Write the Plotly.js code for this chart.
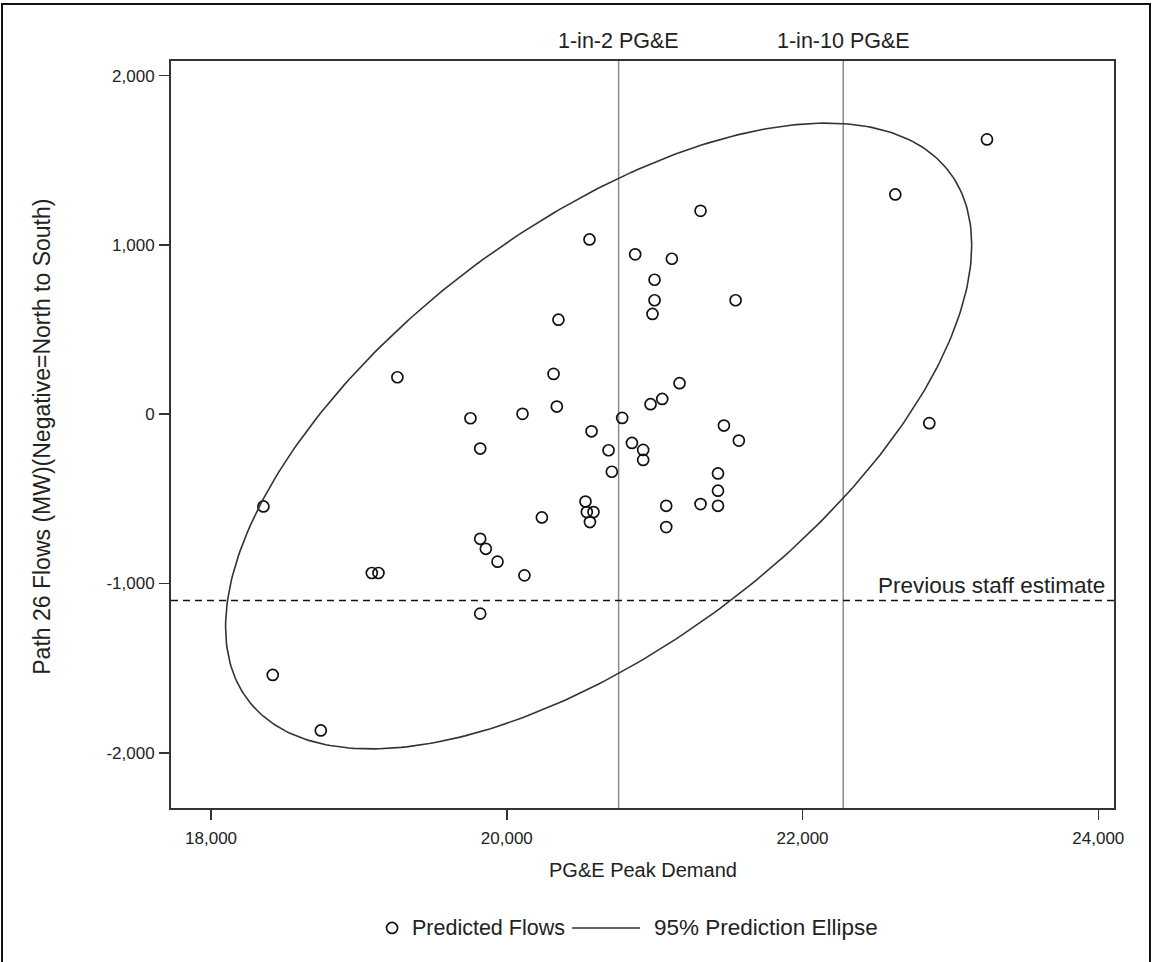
<!DOCTYPE html>
<html>
<head>
<meta charset="utf-8">
<script src="https://cdn.plot.ly/plotly-3.0.1.min.js"></script>
<style>
  html, body { margin: 0; padding: 0; background: #fff; }
  #wrap { position: relative; width: 1152px; height: 962px; overflow: hidden; }
  #chart { width: 1152px; height: 962px; }
  #frame { position: absolute; left: 1px; top: 3px; width: 1146px; height: 980px;
           border-top: 2px solid #111; border-left: 2px solid #111; border-right: 2px solid #111;
           pointer-events: none; }
</style>
</head>
<body>
<div id="wrap"><div id="chart"></div><div id="frame"></div></div>
<script>
// Predicted flows: PG&E peak demand (MW) vs Path 26 flows (MW)
const demand = [18354, 18417, 18742, 19087, 19132, 19260, 19754, 19820, 19820, 19858,
                19937, 19820, 20119, 20106, 20237, 20316, 20338, 20349, 20559, 20532,
                20541, 20586, 20562, 20573, 20688, 20710, 20780, 20846, 20868, 20922,
                20922, 20972, 20985, 20999, 20999, 21051, 21078, 21078, 21116, 21168,
                21310, 21310, 21428, 21428, 21428, 21468, 21547, 21569, 22627, 22857,
                23247];
const flows  = [-545, -1540, -1868, -938, -938, 218, -24, -203, -736, -795,
                -871, -1178, -952, 2, -610, 238, 45, 558, 1032, -516,
                -578, -578, -637, -101, -213, -340, -22, -170, 944, -211,
                -270, 59, 592, 673, 794, 90, -541, -667, 918, 183,
                1201, -531, -350, -452, -541, -67, 673, -156, 1298, -53,
                1623];

// 95% prediction ellipse (centre, half-extents, correlation)
const ellipseCenter = [20621, -129];
const ellipseHalfExtent = [2523, 1848];
const ellipseCorr = 0.61;

// Reference lines
const refDemandLabels = ["1-in-2 PG&E", "1-in-10 PG&E"];
const refDemandValues = [20756, 22275];
const staffEstimateLabel = "Previous staff estimate";
const staffEstimateValue = -1100;

// Axis ticks and titles
const xTickVals = [18000, 20000, 22000, 24000];
const xTickText = ["18,000", "20,000", "22,000", "24,000"];
const yTickVals = [-2000, -1000, 0, 1000, 2000];
const yTickText = ["-2,000", "-1,000", "0", "1,000", "2,000"];
const xTitle = "PG&E Peak Demand";
const yTitle = "Path 26 Flows (MW)(Negative=North to South)";
const seriesNames = ["Predicted Flows", "95% Prediction Ellipse"];

// build ellipse outline
const delta = Math.acos(ellipseCorr);
const ex = [], ey = [];
const N = 360;
for (let i = 0; i <= N; i++) {
  const t = 2 * Math.PI * i / N;
  ex.push(ellipseCenter[0] + ellipseHalfExtent[0] * Math.cos(t));
  ey.push(ellipseCenter[1] + ellipseHalfExtent[1] * Math.cos(t - delta));
}

const FONT = "Liberation Sans, Arial, sans-serif";
const TXT = "#222";
const MARK = "#111";

const traces = [
  {
    x: demand, y: flows, type: "scatter", mode: "markers", name: seriesNames[0],
    marker: { symbol: "circle-open", size: 11, color: MARK, line: { width: 1.7, color: MARK } },
    hoverinfo: "skip", showlegend: false
  },
  {
    x: ex, y: ey, type: "scatter", mode: "lines", name: seriesNames[1],
    line: { color: "#333", width: 1.6 }, hoverinfo: "skip", showlegend: false
  }
];

const shapes = refDemandValues.map(v => ({
  type: "line", xref: "x", yref: "paper", x0: v, x1: v, y0: 0, y1: 1,
  line: { color: "#8c8c8c", width: 1.5 }, layer: "below"
}));
shapes.push({
  type: "line", xref: "paper", yref: "y", x0: 0, x1: 1, y0: staffEstimateValue, y1: staffEstimateValue,
  line: { color: "#111", width: 1.5, dash: "7px,5px" }, layer: "below"
});

// legend drawn below the plot (paper coordinates)
const legY = -0.1606;
shapes.push({
  type: "circle", xref: "paper", yref: "paper", xsizemode: "pixel", ysizemode: "pixel",
  xanchor: 0.2344, yanchor: legY, x0: -5.5, x1: 5.5, y0: -5.5, y1: 5.5,
  line: { color: MARK, width: 1.7 }
});
shapes.push({
  type: "line", xref: "paper", yref: "paper", x0: 0.4252, x1: 0.4974, y0: legY, y1: legY,
  line: { color: "#333", width: 1.6 }
});

const annotations = refDemandValues.map((v, i) => ({
  x: v, xref: "x", y: 1, yref: "paper", yanchor: "bottom", yshift: 6,
  text: refDemandLabels[i], showarrow: false, font: { family: FONT, size: 21.5, color: TXT }
}));
annotations.push({
  x: 1, xref: "paper", xanchor: "right", xshift: -7, y: staffEstimateValue, yref: "y",
  yanchor: "bottom", yshift: 0, text: staffEstimateLabel, showarrow: false,
  font: { family: FONT, size: 22.5, color: TXT }
});
annotations.push({
  x: 0.5, xref: "paper", y: -0.083, yref: "paper", yanchor: "middle", xanchor: "center",
  text: xTitle, showarrow: false, font: { family: FONT, size: 20, color: TXT }
});
annotations.push({
  x: -0.1368, xref: "paper", y: 0.497, yref: "paper", yanchor: "middle", xanchor: "center",
  textangle: -90, text: yTitle, showarrow: false, font: { family: FONT, size: 23, color: TXT }
});
annotations.push({
  x: 0.2534, xref: "paper", xanchor: "left", y: legY, yref: "paper", yanchor: "middle",
  text: seriesNames[0], showarrow: false, font: { family: FONT, size: 21.5, color: TXT }
});
annotations.push({
  x: 0.5101, xref: "paper", xanchor: "left", y: legY, yref: "paper", yanchor: "middle",
  text: seriesNames[1], showarrow: false, font: { family: FONT, size: 22.5, color: TXT }
});

const axisCommon = {
  showgrid: false, zeroline: false, showline: true, mirror: true,
  linecolor: "#333", linewidth: 2, ticks: "outside", ticklen: 10, tickwidth: 1.5,
  tickcolor: "#333", tickfont: { family: FONT, size: 17, color: TXT }
};

const layout = {
  width: 1152, height: 962,
  margin: { l: 171, r: 38, t: 61, b: 154 },
  paper_bgcolor: "#fff", plot_bgcolor: "#fff",
  showlegend: false,
  xaxis: Object.assign({}, axisCommon, {
    range: [17729, 24106], tickvals: xTickVals, ticktext: xTickText, ticklabelstandoff: 4
  }),
  yaxis: Object.assign({}, axisCommon, {
    range: [-2326, 2086], tickvals: yTickVals, ticktext: yTickText, ticklabelstandoff: 1
  }),
  shapes: shapes,
  annotations: annotations
};

Plotly.newPlot("chart", traces, layout, { staticPlot: true, displayModeBar: false });
</script>
</body>
</html>
